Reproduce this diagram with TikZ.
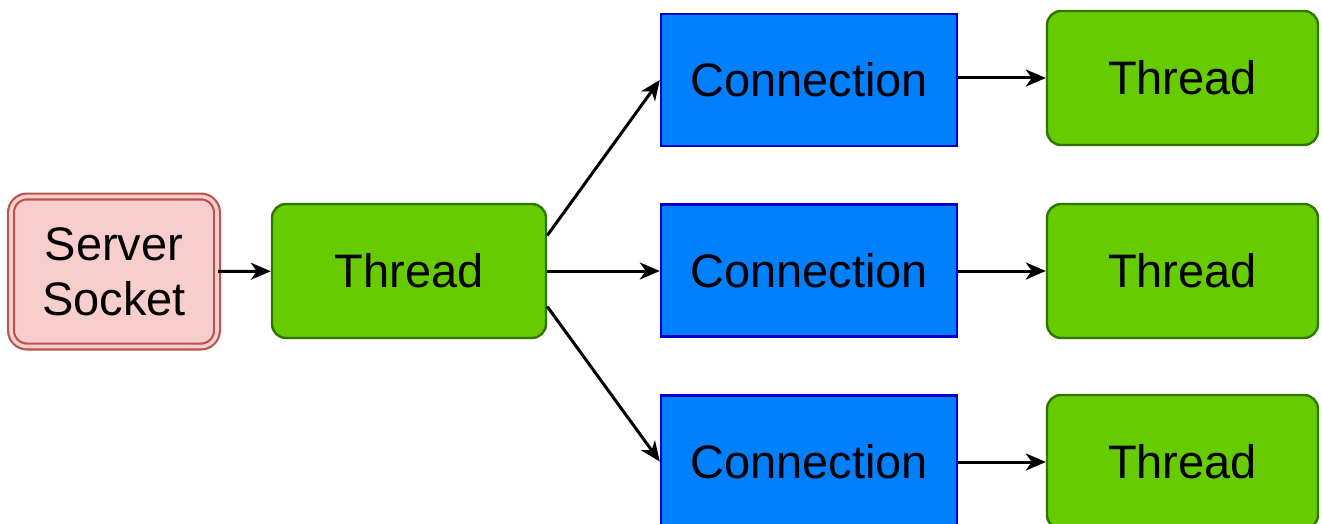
\documentclass[tikz,border=0pt]{standalone}
\usepackage{fontspec}
\setmainfont{Liberation Sans}
\usetikzlibrary{arrows.meta,calc}
\definecolor{thfill}{HTML}{66CC00}
\definecolor{thline}{HTML}{2D7600}
\definecolor{cnfill}{HTML}{007FFF}
\definecolor{cnline}{HTML}{0000CC}
\definecolor{ssfill}{HTML}{F8CECC}
\definecolor{ssline}{HTML}{B85450}
\tikzset{
  box/.style={inner sep=0pt, align=center, line width=1.2pt,
    font=\fontsize{23.5}{27.5}\selectfont},
  threadbox/.style={box, fill=thfill, draw=thline, rounded corners=7pt,
    minimum width=137pt, minimum height=67pt},
  connbox/.style={box, fill=cnfill, draw=cnline,
    minimum width=148pt, minimum height=66pt},
  sockbox/.style={box, fill=ssfill, draw=ssline, double=ssfill,
    double distance=1.8pt, line width=1.1pt, rounded corners=8pt,
    minimum width=103pt, minimum height=75pt},
  flow/.style={line width=1.5pt, -{Stealth[length=10pt,width=8.5pt,inset=3pt]}}
}
\begin{document}
\begin{tikzpicture}[x=0.5pt,y=-0.5pt]
  \useasboundingbox (0,0) rectangle (1322,524);
  \clip (0,0) rectangle (1322,524);
  \fill[white] (0,0) rectangle (1322,524);

  \node[sockbox] (ss) at (114,271.5) {Server\\Socket};
  \node[threadbox] (t0) at (409,271) {Thread};

  \node[connbox] (c1) at (809,80) {Connection};
  \node[connbox] (c2) at (809,270.5) {Connection};
  \node[connbox] (c3) at (809,461.5) {Connection};

  \node[threadbox, minimum width=135.5pt] (r1) at (1182.5,78) {Thread};
  \node[threadbox, minimum width=135.5pt] (r2) at (1182.5,271) {Thread};
  \node[threadbox, minimum width=135.5pt] (r3) at (1182.5,462) {Thread};

  \draw[flow] (ss) -- (t0);
  \draw[flow] ($(t0.north east)!0.24!(t0.south east)$) -- (c1.west);
  \draw[flow] (t0.east) -- (t0.east -| c2.west);
  \draw[flow] ($(t0.north east)!0.76!(t0.south east)$) -- (c3.west);
  \draw[flow] (r1.west -| c1.east) -- (r1.west);
  \draw[flow] (r2.west -| c2.east) -- (r2.west);
  \draw[flow] (r3.west -| c3.east) -- (r3.west);
\end{tikzpicture}
\end{document}
